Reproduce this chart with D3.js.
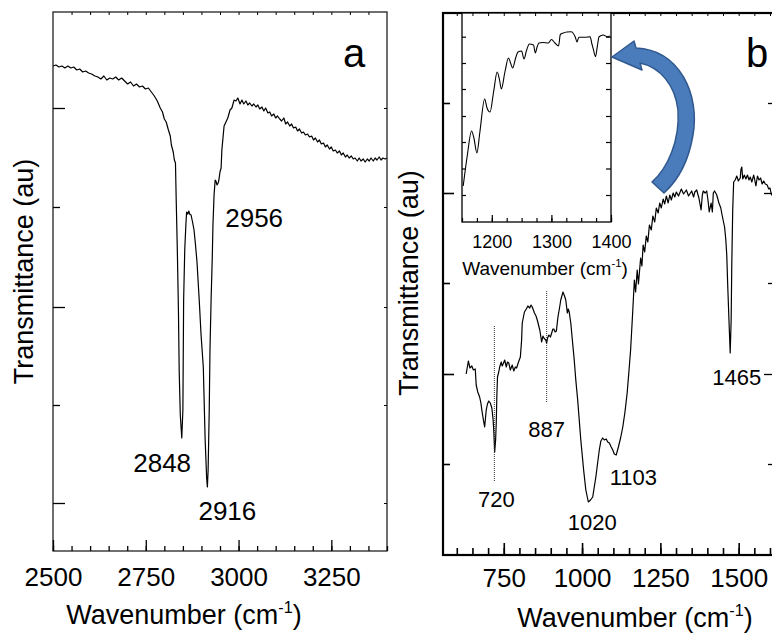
<!DOCTYPE html>
<html>
<head>
<meta charset="utf-8">
<script src="https://cdn.jsdelivr.net/npm/d3@7"></script>
<style>
  body { margin: 0; background: #fff; }
</style>
</head>
<body>
<script>
// panel a: C-H stretching region, [wavenumber, transmittance (au)]
var spectrumA = [
  [2500,54.4],[2508,54.5],[2516,54.3],[2524,54.4],[2532,54.2],[2540,54.4],[2548,54.2],[2556,54.3],
  [2564,54.0],[2572,54.1],[2580,53.8],[2588,53.9],[2596,53.7],[2604,53.6],[2613,53.4],[2621,53.3],
  [2629,53.1],[2637,53.4],[2645,53.0],[2653,53.2],[2661,53.1],[2669,53.3],[2677,53.0],[2685,53.2],
  [2693,52.9],[2701,52.6],[2709,52.8],[2717,52.4],[2725,52.6],[2733,52.3],[2741,52.4],[2749,52.1],
  [2757,52.2],[2765,51.8],[2773,51.4],[2781,50.9],[2789,50.2],[2795,49.8],[2800,49.1],[2805,48.8],
  [2811,48.0],[2816,47.4],[2819,46.5],[2824,45.8],[2827,45.0],[2830,44.7],[2832,41.0],[2835,36.0],
  [2838,30.0],[2840,24.0],[2843,19.5],[2847,17.2],[2850,20.0],[2852,31.0],[2855,36.0],[2858,38.5],
  [2860,39.8],[2863,39.6],[2866,39.9],[2868,39.6],[2872,39.5],[2876,38.8],[2880,38.0],[2884,36.5],
  [2888,34.8],[2894,31.0],[2899,27.5],[2905,24.3],[2910,17.0],[2914,13.2],[2916,12.3],[2918,14.0],
  [2921,20.0],[2923,26.0],[2926,31.0],[2929,35.0],[2931,38.5],[2934,41.5],[2937,43.0],[2939,42.9],
  [2942,42.5],[2945,42.7],[2947,43.0],[2950,43.8],[2953,44.2],[2955,46.0],[2958,47.2],[2961,48.4],
  [2966,48.8],[2971,49.2],[2977,50.0],[2982,50.2],[2988,51.0],[2993,50.9],[2998,51.2],[3004,50.6],
  [3009,51.0],[3014,50.6],[3020,50.9],[3025,50.5],[3030,50.7],[3036,50.4],[3041,50.6],[3047,50.3],
  [3052,50.5],[3057,50.1],[3063,50.3],[3068,49.9],[3073,50.2],[3079,49.7],[3084,49.8],[3089,49.4],
  [3095,49.6],[3100,49.2],[3105,49.4],[3111,49.1],[3116,48.9],[3122,49.2],[3127,48.6],[3132,48.8],
  [3138,48.4],[3143,48.6],[3148,48.2],[3154,48.3],[3159,47.9],[3164,48.1],[3170,47.7],[3175,47.8],
  [3180,47.5],[3186,47.6],[3191,47.3],[3197,47.4],[3202,47.0],[3207,47.2],[3213,46.8],[3218,47.0],
  [3223,46.6],[3229,46.7],[3234,46.3],[3239,46.5],[3245,46.1],[3250,46.3],[3255,45.9],[3261,46.0],
  [3266,45.7],[3272,45.9],[3277,45.5],[3282,45.7],[3288,45.3],[3293,45.5],[3298,45.2],[3304,45.4],
  [3309,45.1],[3314,45.2],[3320,44.9],[3325,45.2],[3330,44.9],[3336,45.1],[3341,44.8],[3347,45.1],
  [3352,44.9],[3357,45.2],[3363,44.9],[3368,45.2],[3373,45.0],[3379,45.3],[3384,45.0],[3389,45.2],
  [3395,45.1],[3400,45.2]
];

// panel b: fingerprint region
var spectrumB = [
  [630,23.6],[637,24.9],[642,24.2],[648,24.4],[653,24.0],[659,24.1],[662,22.5],[667,21.8],
  [673,21.3],[677,20.7],[680,20.0],[685,19.0],[689,18.3],[694,20.0],[698,20.6],[702,20.9],
  [707,20.7],[712,20.2],[716,19.0],[718,18.0],[721,15.8],[724,17.0],[726,18.7],[728,21.5],
  [730,23.3],[734,23.8],[737,24.3],[742,24.8],[745,24.4],[748,24.6],[753,25.0],[758,24.3],
  [762,24.8],[766,24.7],[771,24.0],[777,24.5],[782,23.9],[787,24.3],[791,24.2],[796,24.7],
  [803,25.3],[807,27.0],[809,28.7],[816,29.8],[822,30.1],[827,30.4],[833,30.2],[837,30.5],
  [841,30.3],[848,29.7],[853,29.4],[857,29.0],[865,28.0],[871,26.8],[875,27.4],[878,27.2],
  [884,27.0],[887,26.7],[890,27.2],[894,27.5],[899,27.3],[903,27.7],[907,28.1],[910,28.1],
  [914,27.8],[918,27.9],[923,29.3],[928,30.2],[932,31.0],[939,31.8],[944,31.4],[948,31.0],
  [953,29.7],[956,30.1],[959,29.8],[964,28.7],[969,27.0],[975,25.0],[980,23.0],[986,21.0],
  [996,17.0],[1005,14.0],[1012,12.0],[1020,10.8],[1027,11.0],[1034,11.3],[1044,13.3],[1055,16.0],
  [1060,16.9],[1066,17.2],[1071,17.0],[1077,17.1],[1082,16.8],[1087,16.7],[1093,16.3],[1098,16.0],
  [1103,15.6],[1109,15.5],[1116,16.3],[1123,17.2],[1130,18.3],[1137,19.8],[1144,21.7],[1150,24.0],
  [1155,26.0],[1162,30.0],[1167,33.0],[1171,31.8],[1176,34.0],[1180,32.6],[1187,35.2],[1191,34.4],
  [1195,36.5],[1200,35.8],[1205,37.4],[1210,36.8],[1215,38.5],[1221,38.0],[1226,39.4],[1232,38.8],
  [1237,40.2],[1243,39.7],[1248,40.7],[1253,40.2],[1259,41.1],[1264,40.6],[1269,41.4],[1275,40.7],
  [1280,41.5],[1285,41.0],[1291,41.7],[1296,41.3],[1301,41.8],[1308,41.4],[1317,42.1],[1324,41.6],
  [1333,42.0],[1340,41.4],[1350,41.9],[1356,41.3],[1360,41.8],[1366,42.0],[1373,41.2],[1380,40.0],
  [1384,41.5],[1387,41.9],[1393,41.7],[1398,41.9],[1402,41.0],[1406,39.8],[1412,40.7],[1416,39.8],
  [1419,41.7],[1423,41.9],[1430,41.5],[1437,40.7],[1443,40.2],[1447,39.5],[1455,38.3],[1459,37.0],
  [1462,35.5],[1465,32.5],[1469,29.0],[1473,25.7],[1476,29.0],[1478,34.5],[1481,40.0],[1484,42.8],
  [1489,43.0],[1494,43.4],[1499,42.9],[1505,43.2],[1507,44.0],[1510,44.3],[1513,43.1],[1518,43.5],
  [1523,43.1],[1528,43.5],[1533,43.0],[1537,43.3],[1542,42.8],[1548,43.5],[1552,42.9],[1555,42.4],
  [1560,43.4],[1565,43.0],[1570,43.2],[1575,42.6],[1580,42.9],[1585,42.6],[1591,42.5],[1596,42.1],
  [1600,42.2],[1604,41.6],[1612,41.2]
];

// inset: 1150-1400 zoom
var insetB = [
  [1152,5.4],[1159,8.5],[1166,10.9],[1170,10.2],[1175,8.7],[1180,10.8],[1188,14.1],[1192,13.2],
  [1197,12.8],[1203,14.8],[1209,16.8],[1213,16.0],[1216,15.1],[1222,16.8],[1228,18.2],[1232,17.6],
  [1235,17.2],[1240,18.2],[1244,18.8],[1250,18.9],[1254,18.1],[1258,18.9],[1263,19.6],[1270,19.5],
  [1273,18.7],[1276,19.3],[1279,19.7],[1286,19.75],[1295,19.7],[1300,20.05],[1306,19.7],[1312,19.4],
  [1315,20.55],[1320,20.7],[1326,20.8],[1333,20.83],[1340,20.3],[1343,19.8],[1346,20.27],[1356,20.27],
  [1365,20.33],[1368,19.6],[1370,19.17],[1374,18.33],[1377,19.33],[1380,20.33],[1387,20.5],[1394,20.33],
  [1398,20.4]
];

var peaksA = ["2848", "2916", "2956"];
var peaksB = ["720", "887", "1020", "1103", "1465"];
var markersB = [[720, 28.4, 12.8], [887, 31.9, 20.7]];   // dotted guides: wavenumber, top, bottom

var xTicksA = [2500, 2750, 3000, 3250];
var xTicksB = [750, 1000, 1250, 1500];
var xTicksInset = [1200, 1300, 1400];
var yLongA = [10.7, 30.3, 50.2], yShortA = [20.5, 40.3];
var yLongB = [23.6, 41.7], yShortB = [14.6, 32.7, 50.7];
var yTicksInset = [4.5, 7.15, 9.8, 12.4, 15.1, 17.7, 20.33];

var font = "'Liberation Sans', Arial, sans-serif";

var svg = d3.select("body").append("svg")
    .attr("width", 772)
    .attr("height", 634);

var xA = d3.scaleLinear().domain([2500, 3400]).range([53, 387]);
var yA = d3.scaleLinear().domain([5.9, 59.8]).range([551, 12]);
var xB = d3.scaleLinear().domain([556, 1616]).range([443, 775]);
var yB = d3.scaleLinear().domain([5.5, 59.7]).range([555, 13]);
var xI = d3.scaleLinear().domain([1150, 1400]).range([462, 611]);
var yI = d3.scaleLinear().domain([1.8, 22.7]).range([222, 13]);

function addAxis(axis, tx, ty, sw, size) {
    var g = svg.append("g")
        .attr("transform", "translate(" + tx + "," + ty + ")")
        .call(axis);
    g.select(".domain").remove();
    g.attr("font-family", font).attr("font-size", size || 10);
    g.selectAll("line").attr("stroke", "#000").attr("stroke-width", sw);
    g.selectAll("text").attr("fill", "#000");
    return g;
}

function xLabel(x, y, size) {
    var t = svg.append("text")
        .attr("x", x).attr("y", y)
        .attr("text-anchor", "middle")
        .attr("font-family", font)
        .attr("font-size", size);
    t.append("tspan").text("Wavenumber (cm");
    t.append("tspan").attr("font-size", size * 0.6).attr("dy", -size * 0.42).text("-1");
    t.append("tspan").attr("dy", size * 0.42).text(")");
}

function yLabel(x, y, size) {
    svg.append("text")
        .attr("transform", "translate(" + x + "," + y + ") rotate(-90)")
        .attr("text-anchor", "middle")
        .attr("font-family", font)
        .attr("font-size", size)
        .text("Transmittance (au)");
}

var line = function(x, y) {
    return d3.line().x(function(d) { return x(d[0]); }).y(function(d) { return y(d[1]); });
};

// ---------- panel a ----------
svg.append("path")
    .datum(spectrumA)
    .attr("fill", "none")
    .attr("stroke", "#000")
    .attr("stroke-width", 1.2)
    .attr("stroke-linejoin", "round")
    .attr("d", line(xA, yA));

svg.append("rect")
    .attr("x", 53).attr("y", 12)
    .attr("width", 387 - 53).attr("height", 551 - 12)
    .attr("fill", "none").attr("stroke", "#222").attr("stroke-width", 1.3);

addAxis(d3.axisBottom(xA).tickValues(d3.range(2500, 3401, 50)).tickSize(-5).tickFormat(""), 0, 551, 1.3);
addAxis(d3.axisBottom(xA).tickValues(xTicksA).tickSize(-11).tickPadding(16.5).tickFormat(d3.format("d")), 0, 551, 1.3, 26);
addAxis(d3.axisTop(xA).tickValues(d3.range(2550, 3400, 50)).tickSize(-3).tickFormat(""), 0, 12, 1);
addAxis(d3.axisLeft(yA).tickValues(yLongA).tickSize(-12).tickFormat(""), 53, 0, 1.3);
addAxis(d3.axisLeft(yA).tickValues(yShortA).tickSize(-7).tickFormat(""), 53, 0, 1.3);
addAxis(d3.axisRight(yA).tickValues(yLongA.concat(yShortA)).tickSize(-3).tickFormat(""), 387, 0, 1);

xLabel(184, 624, 27);
yLabel(33, 271.5, 27);

svg.append("text").attr("x", 354).attr("y", 67).attr("text-anchor", "middle")
    .attr("font-family", font).attr("font-size", 40).text("a");

var labA = [[-20, 472, "middle"], [20, 520, "middle"], [3, 227, "start"]];
peaksA.forEach(function(p, i) {
    svg.append("text")
        .attr("x", xA(+p) + labA[i][0]).attr("y", labA[i][1])
        .attr("text-anchor", labA[i][2])
        .attr("font-family", font).attr("font-size", 26)
        .text(p);
});

// ---------- panel b ----------
svg.append("path")
    .datum(spectrumB)
    .attr("fill", "none")
    .attr("stroke", "#000")
    .attr("stroke-width", 1.2)
    .attr("stroke-linejoin", "round")
    .attr("d", line(xB, yB));

svg.selectAll(".marker")
    .data(markersB)
    .enter().append("line")
    .attr("class", "marker")
    .attr("x1", function(d) { return xB(d[0]); })
    .attr("x2", function(d) { return xB(d[0]); })
    .attr("y1", function(d) { return yB(d[1]); })
    .attr("y2", function(d) { return yB(d[2]); })
    .attr("stroke", "#333").attr("stroke-width", 1).attr("stroke-dasharray", "1,1");

svg.append("rect")
    .attr("x", 443).attr("y", 13)
    .attr("width", 775 - 443).attr("height", 555 - 13)
    .attr("fill", "none").attr("stroke", "#000").attr("stroke-width", 2.2);

addAxis(d3.axisBottom(xB).tickValues(d3.range(600, 1616, 50)).tickSize(-7).tickFormat(""), 0, 555, 1.6);
addAxis(d3.axisBottom(xB).tickValues(xTicksB).tickSize(-12).tickPadding(13.5).tickFormat(d3.format("d")), 0, 555, 1.6, 26);
addAxis(d3.axisLeft(yB).tickValues(yLongB).tickSize(-11).tickFormat(""), 443, 0, 1.6);
addAxis(d3.axisLeft(yB).tickValues(yShortB).tickSize(-7).tickFormat(""), 443, 0, 1.6);
addAxis(d3.axisRight(yB).tickValues(yLongB).tickSize(-11).tickFormat(""), 775, 0, 1.3);
addAxis(d3.axisRight(yB).tickValues(yShortB).tickSize(-7).tickFormat(""), 775, 0, 1.3);

xLabel(635, 627, 27);
yLabel(418, 283, 27);

var labB = [[2, 507], [0, 437], [4, 530], [19, 485], [9, 385]];
peaksB.forEach(function(p, i) {
    svg.append("text")
        .attr("x", xB(+p) + labB[i][0]).attr("y", labB[i][1])
        .attr("text-anchor", "middle")
        .attr("font-family", font).attr("font-size", 22)
        .text(p);
});

// inset
svg.append("rect")
    .attr("x", 462).attr("y", 13)
    .attr("width", 611 - 462).attr("height", 222 - 13)
    .attr("fill", "#fff").attr("stroke", "#000").attr("stroke-width", 1.3);

svg.append("path")
    .datum(insetB)
    .attr("fill", "none")
    .attr("stroke", "#000")
    .attr("stroke-width", 1.1)
    .attr("d", line(xI, yI).curve(d3.curveMonotoneX));

addAxis(d3.axisBottom(xI).tickValues(d3.range(1150, 1401, 25)).tickSize(-4).tickFormat(""), 0, 222, 1.2);
addAxis(d3.axisBottom(xI).tickValues(xTicksInset).tickSize(-7).tickPadding(13).tickFormat(d3.format("d")), 0, 222, 1.2, 18);
addAxis(d3.axisLeft(yI).tickValues(yTicksInset).tickSize(-4).tickFormat(""), 462, 0, 1.2);
addAxis(d3.axisRight(yI).tickValues(yTicksInset).tickSize(-5).tickFormat(""), 611, 0, 1.2);
xLabel(545, 275, 19);

// top ticks of panel b drawn over the inset border
addAxis(d3.axisTop(xB).tickValues(d3.range(600, 1616, 50)).tickSize(-3).tickFormat(""), 0, 13, 1);

svg.append("text").attr("x", 757).attr("y", 67).attr("text-anchor", "middle")
    .attr("font-family", font).attr("font-size", 40).text("b");

// curved arrow pointing from the 1150-1400 region to the inset
svg.append("path")
    .attr("transform", "translate(" + (xI(1400) + 1) + "," + yI(18.3) + ")")
    .attr("d", "M24,-9 C68,-7 88,38 81,78 C76,108 63,126 52,136 L40,125 " +
               "C56,111 68,83 66,53 C63,28 48,10 28,6 L30,13 L0,0 L22,-16 Z")
    .attr("fill", "#4a7bbb")
    .attr("stroke", "#30598f")
    .attr("stroke-width", 1.5)
    .attr("stroke-linejoin", "round");
</script>
</body>
</html>
